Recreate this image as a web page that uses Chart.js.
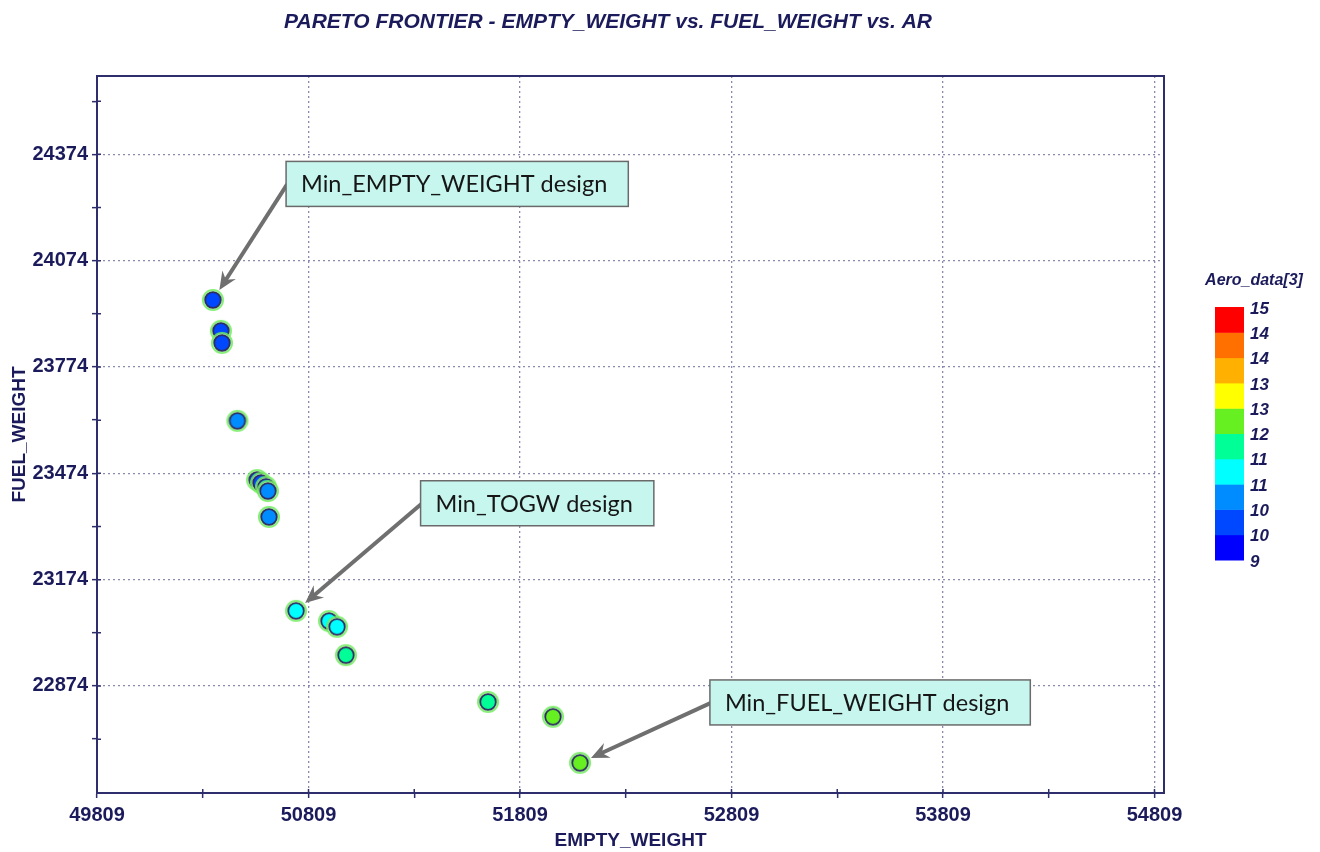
<!DOCTYPE html>
<html>
<head>
<meta charset="utf-8">
<title>Pareto frontier</title>
<script src="https://cdn.jsdelivr.net/npm/chart.js@4.4.0/dist/chart.umd.min.js"></script>
<style>
body { margin: 0; background: #fff; }
#wrap { width: 1320px; height: 852px; }
</style>
</head>
<body>
<div id="wrap"><canvas id="pareto"></canvas></div>
<script>
// design points
var emptyWeight = [50357, 50395, 50400, 50473, 50566, 50584, 50608, 50617, 50622, 50750, 50906, 50944, 50986, 51658, 51965, 52093];
var fuelWeight  = [23963, 23876, 23842, 23622, 23455, 23447, 23436, 23424, 23351, 23086, 23057, 23041, 22961, 22829, 22787, 22657];
var aeroData    = [9.9, 9.8, 9.9, 10.5, 9.9, 10.0, 10.5, 10.6, 10.5, 11.1, 11.1, 11.2, 11.7, 11.8, 12.3, 12.3];

var xMajorTicks = [49809, 50809, 51809, 52809, 53809, 54809];
var xMinorTicks = [50309, 51309, 52309, 53309, 54309];
var yMajorTicks = [22874, 23174, 23474, 23774, 24074, 24374];
var yMinorTicks = [22724, 23024, 23324, 23624, 23924, 24224, 24524];

// colour bar, bottom to top
var barColors = ["#0000ff", "#0048ff", "#008cff", "#00ffff", "#00ff96", "#66f022", "#ffff00", "#ffb000", "#ff7000", "#ff0000"];
var barLabels = ["9", "10", "10", "11", "11", "12", "13", "13", "14", "14", "15"];
var barMin = 9, barMax = 15;

var noteLabels = ["Min_EMPTY_WEIGHT design", "Min_TOGW design", "Min_FUEL_WEIGHT design"];
var noteTarget = [0, 9, 15];
var noteX = [50703, 51339, 52707];
var noteY = [24354, 23453, 22891];

var navy = "#1b1b5b";
var axisFont = "Liberation Sans, Arial, sans-serif";

function bandOf(v) {
    var i = Math.floor((v - barMin) / (barMax - barMin) * barColors.length);
    return Math.max(0, Math.min(barColors.length - 1, i));
}

function makeDot(color) {
    var c = document.createElement("canvas");
    c.width = 26; c.height = 26;
    var g = c.getContext("2d");
    g.beginPath(); g.arc(13, 13, 11, 0, 2 * Math.PI);
    g.fillStyle = "rgba(110,236,90,0.85)"; g.fill();
    g.beginPath(); g.arc(13, 13, 9.2, 0, 2 * Math.PI);
    g.fillStyle = "rgba(205,248,195,0.9)"; g.fill();
    g.beginPath(); g.arc(13, 13, 7.8, 0, 2 * Math.PI);
    g.fillStyle = color; g.fill();
    g.lineWidth = 1.8; g.strokeStyle = "#2c2c60"; g.stroke();
    return c;
}
var dots = barColors.map(makeDot);

var points = emptyWeight.map(function (x, i) { return { x: x, y: fuelWeight[i] }; });

var framePlugin = {
    id: "frame",
    afterDraw: function (chart) {
        var a = chart.chartArea, ctx = chart.ctx;
        ctx.save();
        ctx.strokeStyle = "#2e2e6c";
        ctx.lineWidth = 2;
        ctx.strokeRect(a.left, a.top, a.right - a.left, a.bottom - a.top);

        // small tick marks reaching inside the frame too
        ctx.lineWidth = 1.5;
        ctx.beginPath();
        xMajorTicks.concat(xMinorTicks).forEach(function (v) {
            var x = chart.scales.x.getPixelForValue(v);
            ctx.moveTo(x, a.bottom); ctx.lineTo(x, a.bottom - 4);
        });
        yMajorTicks.concat(yMinorTicks).forEach(function (v) {
            var y = chart.scales.y.getPixelForValue(v);
            ctx.moveTo(a.left, y); ctx.lineTo(a.left + 4, y);
        });
        ctx.stroke();

        // title
        ctx.fillStyle = navy;
        ctx.font = "italic bold 21px " + axisFont;
        ctx.textAlign = "center";
        ctx.textBaseline = "middle";
        ctx.fillText("PARETO FRONTIER - EMPTY_WEIGHT vs. FUEL_WEIGHT vs. AR", 608, 22);

        // colour bar
        var top = 307, bottom = 560, left = 1215, w = 29;
        var h = (bottom - top) / barColors.length;
        for (var i = 0; i < barColors.length; i++) {
            ctx.fillStyle = barColors[i];
            ctx.fillRect(left, bottom - (i + 1) * h, w, h + 0.5);
        }
        ctx.fillStyle = navy;
        ctx.font = "italic bold 16px " + axisFont;
        ctx.fillText("Aero_data[3]", 1254, 281);
        ctx.font = "italic bold 17px " + axisFont;
        ctx.textAlign = "left";
        for (var j = 0; j < barLabels.length; j++) {
            ctx.fillText(barLabels[j], 1250, bottom - j * h + 2);
        }
        ctx.restore();
    }
};

var notePlugin = {
    id: "notes",
    afterDatasetsDraw: function (chart) {
        var ctx = chart.ctx, xs = chart.scales.x, ys = chart.scales.y;
        ctx.save();
        ctx.font = "23.5px Lato, 'Open Sans', sans-serif";
        for (var i = 0; i < noteLabels.length; i++) {
            var bx = xs.getPixelForValue(noteX[i]);
            var by = ys.getPixelForValue(noteY[i]);
            var tw = ctx.measureText(noteLabels[i]).width;
            var bw = tw + 36, bh = 45;
            var sx = bx + 1, sy = by + 23;
            var px = xs.getPixelForValue(emptyWeight[noteTarget[i]]);
            var py = ys.getPixelForValue(fuelWeight[noteTarget[i]]);
            var dx = sx - px, dy = sy - py, len = Math.sqrt(dx * dx + dy * dy);
            var ux = dx / len, uy = dy / len;
            var tx = px + ux * 12, ty = py + uy * 12;
            // arrow
            ctx.strokeStyle = "#6f6f6f";
            ctx.fillStyle = "#6f6f6f";
            ctx.lineWidth = 4;
            ctx.beginPath();
            ctx.moveTo(sx, sy);
            ctx.lineTo(tx + ux * 10, ty + uy * 10);
            ctx.stroke();
            var nx = -uy, ny = ux;
            ctx.beginPath();
            ctx.moveTo(tx, ty);
            ctx.lineTo(tx + ux * 18 + nx * 8, ty + uy * 18 + ny * 8);
            ctx.lineTo(tx + ux * 12, ty + uy * 12);
            ctx.lineTo(tx + ux * 18 - nx * 8, ty + uy * 18 - ny * 8);
            ctx.closePath();
            ctx.fill();
            // box
            ctx.fillStyle = "#c7f6ee";
            ctx.fillRect(bx, by, bw, bh);
            ctx.strokeStyle = "#6a6a6a";
            ctx.lineWidth = 1.5;
            ctx.strokeRect(bx, by, bw, bh);
            ctx.fillStyle = "#161616";
            ctx.textAlign = "left";
            ctx.textBaseline = "middle";
            ctx.fillText(noteLabels[i], bx + 15, by + bh / 2 + 1);
        }
        ctx.restore();
    }
};

function isIn(list, v) { return list.indexOf(v) >= 0; }

var chartGraph = new Chart(document.getElementById("pareto"), {
    type: "scatter",
    data: {
        datasets: [{
            data: points,
            pointStyle: aeroData.map(function (v) { return dots[bandOf(v)]; }),
            pointRadius: 11,
            pointHoverRadius: 11
        }]
    },
    options: {
        responsive: true,
        maintainAspectRatio: false,
        animation: false,
        layout: { padding: { top: 76, right: 156, left: 0, bottom: 0 } },
        plugins: { legend: { display: false }, tooltip: { enabled: false } },
        scales: {
            x: {
                type: "linear",
                min: 49809,
                max: 54854,
                afterBuildTicks: function (scale) {
                    scale.ticks = xMajorTicks.concat(xMinorTicks).map(function (v) { return { value: v }; });
                },
                afterFit: function (scale) { scale.height = 59; },
                ticks: {
                    autoSkip: false,
                    maxRotation: 0,
                    padding: 5,
                    color: navy,
                    font: { family: axisFont, size: 20, weight: "bold" },
                    callback: function (v) { return isIn(xMajorTicks, v) ? String(v) : ""; }
                },
                grid: {
                    color: function (c) { return c.tick && isIn(xMajorTicks, c.tick.value) ? "#8a8ab0" : "rgba(0,0,0,0)"; },
                    lineWidth: 1.3,
                    tickColor: "#2e2e6c",
                    tickLength: 5,
                    tickWidth: 1.5
                },
                border: { color: "#2e2e6c", width: 2, dash: [2, 3] },
                title: {
                    display: true,
                    text: "EMPTY_WEIGHT",
                    color: navy,
                    font: { family: axisFont, size: 19, weight: "bold" },
                    padding: { top: 0, bottom: 0 }
                }
            },
            y: {
                type: "linear",
                min: 22572,
                max: 24595,
                afterBuildTicks: function (scale) {
                    scale.ticks = yMajorTicks.concat(yMinorTicks).map(function (v) { return { value: v }; });
                },
                afterFit: function (scale) { scale.width = 97; },
                ticks: {
                    autoSkip: false,
                    padding: 4,
                    color: navy,
                    font: { family: axisFont, size: 20, weight: "bold" },
                    callback: function (v) { return isIn(yMajorTicks, v) ? String(v) : ""; }
                },
                grid: {
                    color: function (c) { return c.tick && isIn(yMajorTicks, c.tick.value) ? "#8a8ab0" : "rgba(0,0,0,0)"; },
                    lineWidth: 1.3,
                    tickColor: "#2e2e6c",
                    tickLength: 5,
                    tickWidth: 1.5
                },
                border: { color: "#2e2e6c", width: 2, dash: [2, 3] },
                title: {
                    display: true,
                    text: "FUEL_WEIGHT",
                    color: navy,
                    font: { family: axisFont, size: 19, weight: "bold" },
                    padding: { top: 8, bottom: 0 }
                }
            }
        }
    },
    plugins: [framePlugin, notePlugin]
});
</script>
</body>
</html>
